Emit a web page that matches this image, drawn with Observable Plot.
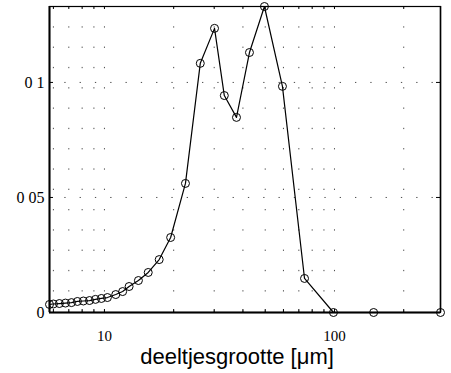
<!DOCTYPE html>
<html>
<head>
<meta charset="utf-8">
<script src="https://cdn.jsdelivr.net/npm/d3@7"></script>
<script src="https://cdn.jsdelivr.net/npm/@observablehq/plot@0.6"></script>
<style>
  html, body { margin: 0; padding: 0; background: #fff; }
  svg { display: block; }
</style>
</head>
<body>
<div id="chart"></div>
<script>
// particle size (µm) and fraction
const sizes = [5.77, 6.0, 6.37, 6.77, 7.19, 7.63, 8.10, 8.61, 9.14, 9.70, 10.3, 11.2, 12.0, 12.8, 14.05, 15.5, 17.3, 19.4, 22.5, 26.1, 30.1, 33.2, 37.5, 42.7, 49.6, 59.4, 74.1, 99, 148, 289];
const fractions = [0.0035, 0.0037, 0.0039, 0.0041, 0.0043, 0.0048, 0.0050, 0.0052, 0.0057, 0.0061, 0.0065, 0.0078, 0.0091, 0.0113, 0.0139, 0.0174, 0.0230, 0.0326, 0.0561, 0.1083, 0.1235, 0.0943, 0.0848, 0.1130, 0.1330, 0.0983, 0.0148, 0, 0, 0];

const xTicks = [10, 100];
const xTickLabels = ["10", "100"];
const xGrid = [6, 7, 8, 9, 10, 20, 30, 40, 50, 60, 70, 80, 90, 100, 200];
const yTicks = [0, 0.05, 0.1];
const yTickLabels = ["0", "0 05", "0 1"];
const xLabel = "deeltjesgrootte [μm]";

const data = sizes.map((s, i) => ({size: s, frac: fractions[i]}));

const W = 451, H = 373, mL = 49, mR = 11, mT = 6, mB = 61;
const fh = H - mT - mB, fw = W - mL - mR;
const xmin = d3.min(sizes), xmax = d3.max(sizes);

const chart = Plot.plot({
  width: W, height: H,
  marginLeft: mL, marginRight: mR, marginTop: mT, marginBottom: mB,
  style: {background: "#fff", color: "#000"},
  x: {type: "log", domain: [xmin, xmax]},
  y: {domain: [0, d3.max(fractions)]},
  marks: [
    Plot.ruleX(xGrid, {x: d => d, stroke: "#000", strokeOpacity: 0.7, strokeDasharray: "1.3,19"}),
    Plot.ruleY(yTicks.filter(d => d > 0), {y: d => d, stroke: "#000", strokeOpacity: 0.7, strokeDasharray: "1.3,14"}),
    Plot.tickX(xGrid, {x: d => d, insetTop: fh - 3, stroke: "#000"}),
    Plot.tickX(xGrid, {x: d => d, insetBottom: fh - 3, stroke: "#000"}),
    Plot.tickY(yTicks, {y: d => d, insetRight: fw - 4, stroke: "#000"}),
    Plot.tickY(yTicks, {y: d => d, insetLeft: fw - 4, stroke: "#000"}),
    Plot.frame({stroke: "#000", strokeWidth: 1.2}),
    Plot.ruleX([xmin], {x: d => d, stroke: "#000", strokeWidth: 2}),
    Plot.ruleX([xmax], {x: d => d, stroke: "#000", strokeWidth: 1.5}),
    Plot.ruleY([0], {y: d => d, stroke: "#000", strokeWidth: 2}),
    Plot.line(data, {x: "size", y: "frac", stroke: "#000", strokeWidth: 1.2}),
    Plot.dot(data, {x: "size", y: "frac", r: 4, stroke: "#000", strokeWidth: 1, fill: "none"}),
    Plot.axisX(xTicks, {tickSize: 0, tickPadding: 18, tickFormat: d => xTickLabels[xTicks.indexOf(d)], fontSize: 15, fontFamily: "Liberation Serif", label: null}),
    Plot.axisY(yTicks, {tickSize: 0, tickPadding: 5, tickFormat: d => yTickLabels[yTicks.indexOf(d)], fontSize: 16, fontFamily: "Liberation Serif", label: null}),
    Plot.text([xLabel], {text: d => d, frameAnchor: "bottom", dy: 44, dx: -8, lineAnchor: "middle", fontSize: 22, fontFamily: "Liberation Sans", fill: "#000"})
  ]
});
document.getElementById("chart").appendChild(chart);
</script>
</body>
</html>
